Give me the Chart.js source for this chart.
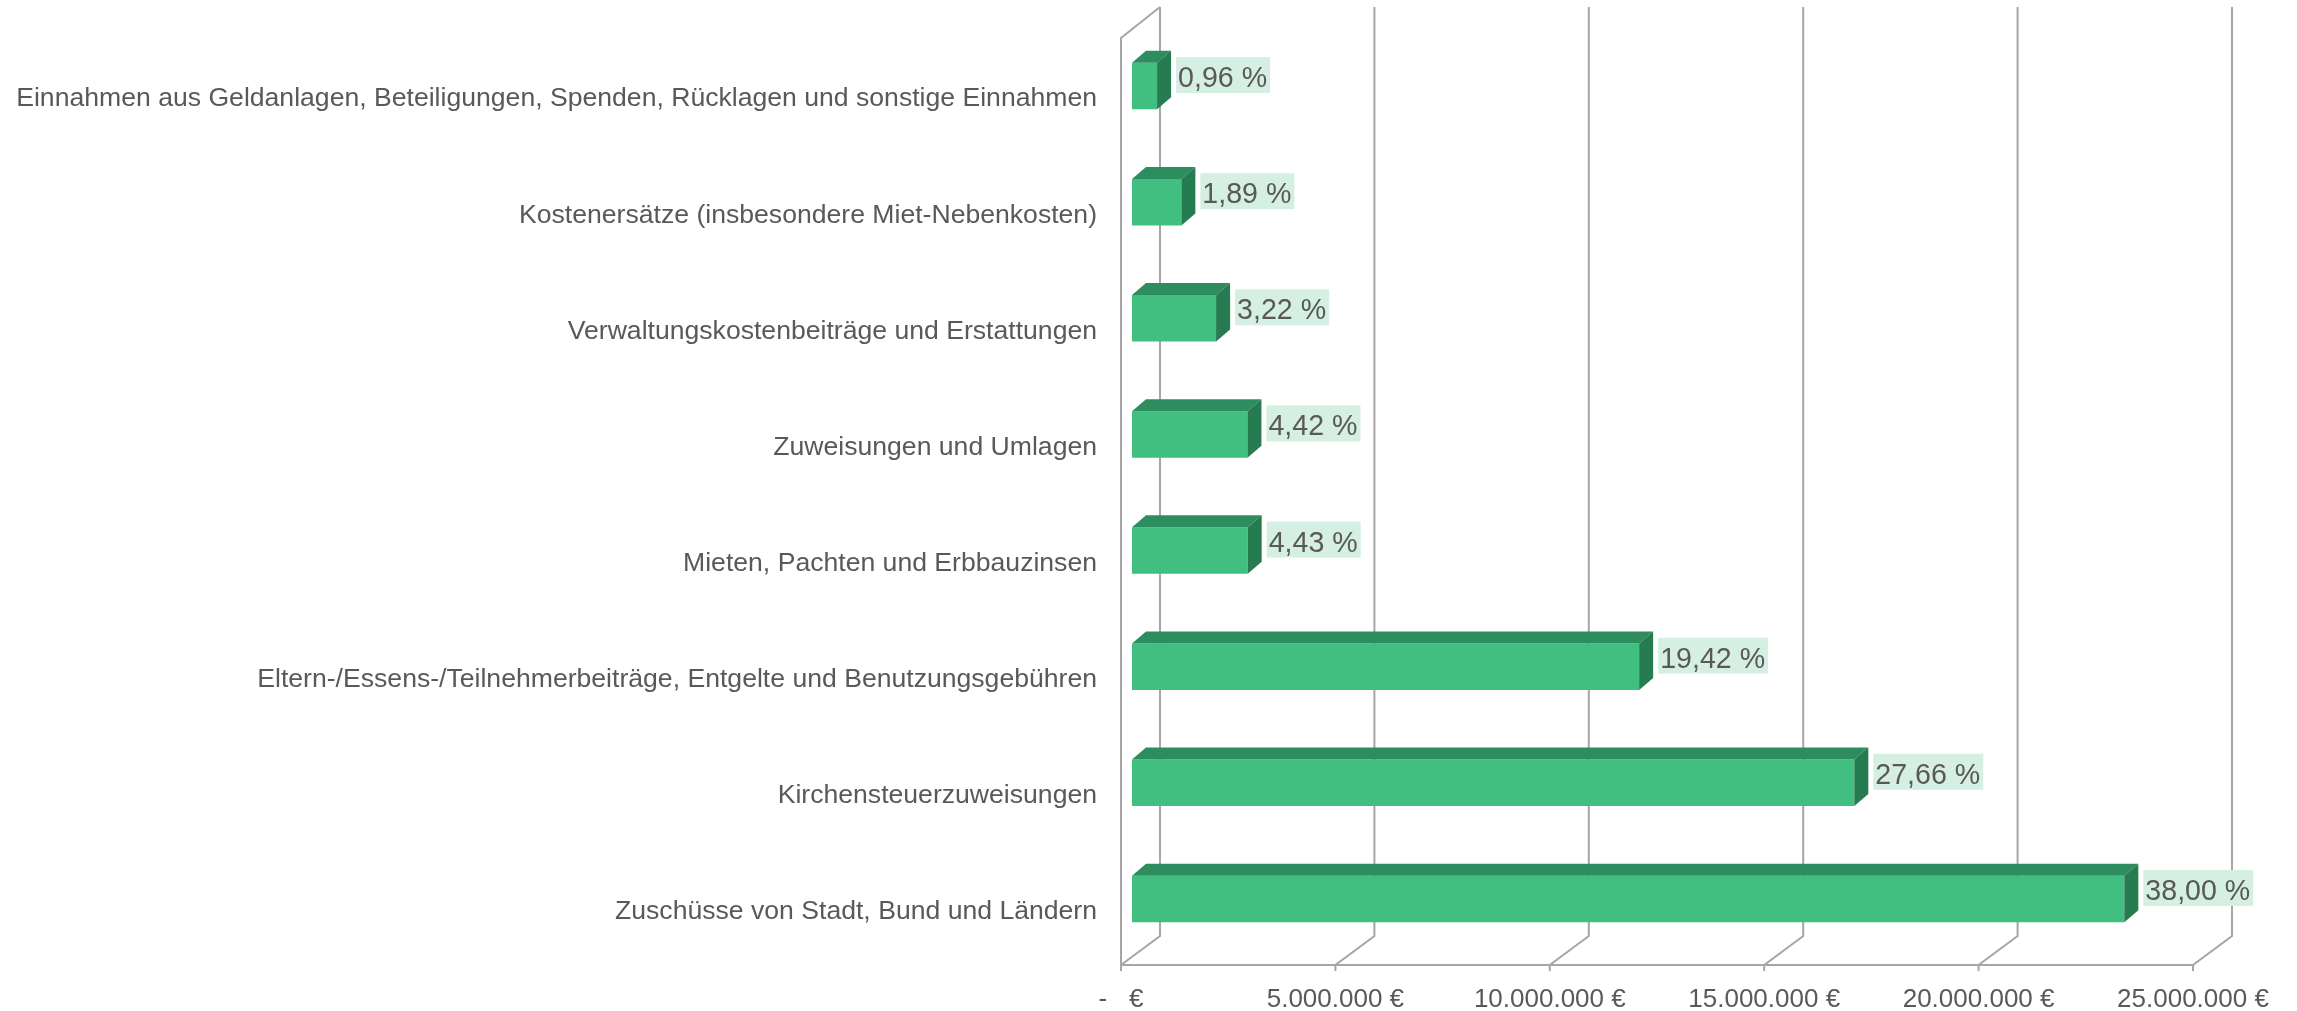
<!DOCTYPE html>
<html>
<head>
<meta charset="utf-8">
<script src="https://cdn.jsdelivr.net/npm/chart.js@4"></script>
<style>
  body { margin: 0; background: #fff; }
  #wrap { width: 2297px; height: 1011px; }
</style>
</head>
<body>
<div id="wrap"><canvas id="einnahmenChart" width="2297" height="1011"></canvas></div>
<script>
var categories = [
    'Einnahmen aus Geldanlagen, Beteiligungen, Spenden, Rücklagen und sonstige Einnahmen',
    'Kostenersätze (insbesondere Miet-Nebenkosten)',
    'Verwaltungskostenbeiträge und Erstattungen',
    'Zuweisungen und Umlagen',
    'Mieten, Pachten und Erbbauzinsen',
    'Eltern-/Essens-/Teilnehmerbeiträge, Entgelte und Benutzungsgebühren',
    'Kirchensteuerzuweisungen',
    'Zuschüsse von Stadt, Bund und Ländern'
];
// Beträge in Euro (aus der Grafik geschätzt)
var betraege = [585000, 1151000, 1961000, 2692000, 2698000, 11827000, 16845000, 23142000];
var anteile = ['0,96 %', '1,89 %', '3,22 %', '4,42 %', '4,43 %', '19,42 %', '27,66 %', '38,00 %'];
var tickLabels = ['-   €', '5.000.000 €', '10.000.000 €', '15.000.000 €', '20.000.000 €', '25.000.000 €'];

var schrift = "'Liberation Sans', Arial, sans-serif";
var textFarbe = '#595959';
var gitterFarbe = '#A6A6A6';

// 3D-Versatz: Vorderkante / Rückwand relativ zur Balkenebene
var vorne = { dx: -11, dy: 8 };
var hinten = { dx: 28, dy: -21 };
var wandOben = 7;
var tiefe = { dx: 14, dy: 12 };

var rahmen3d = {
    id: 'rahmen3d',
    beforeDatasetsDraw: function (chart) {
        var ctx = chart.ctx;
        var x = chart.scales.x;
        var area = chart.chartArea;
        var bodenHinten = area.bottom + hinten.dy;
        var bodenVorne = area.bottom + vorne.dy;
        ctx.save();
        ctx.strokeStyle = gitterFarbe;
        ctx.lineWidth = 2;
        x.ticks.forEach(function (t) {
            var px = x.getPixelForValue(t.value);
            ctx.beginPath();
            ctx.moveTo(px + hinten.dx, wandOben);
            ctx.lineTo(px + hinten.dx, bodenHinten);
            ctx.lineTo(px + vorne.dx, bodenVorne);
            ctx.lineTo(px + vorne.dx, bodenVorne + 6);
            ctx.stroke();
        });
        // Vorderkante Boden
        ctx.beginPath();
        ctx.moveTo(x.getPixelForValue(x.min) + vorne.dx, bodenVorne);
        ctx.lineTo(x.getPixelForValue(x.max) + vorne.dx, bodenVorne);
        ctx.stroke();
        // linke Seitenwand
        var x0 = x.getPixelForValue(0);
        ctx.beginPath();
        ctx.moveTo(x0 + vorne.dx, bodenVorne);
        ctx.lineTo(x0 + vorne.dx, wandOben + (vorne.dy - hinten.dy) + 2);
        ctx.lineTo(x0 + hinten.dx, wandOben);
        ctx.stroke();
        ctx.restore();
    },
    afterDatasetsDraw: function (chart) {
        var ctx = chart.ctx;
        var meta = chart.getDatasetMeta(0);
        ctx.save();
        meta.data.forEach(function (bar, i) {
            var p = bar.getProps(['x', 'y', 'base', 'height'], true);
            var top = p.y - p.height / 2;
            var bottom = p.y + p.height / 2;
            // Deckfläche
            ctx.fillStyle = '#2E8D5F';
            ctx.beginPath();
            ctx.moveTo(p.base, top);
            ctx.lineTo(p.x, top);
            ctx.lineTo(p.x + tiefe.dx, top - tiefe.dy);
            ctx.lineTo(p.base + tiefe.dx, top - tiefe.dy);
            ctx.closePath();
            ctx.fill();
            // Seitenfläche
            ctx.fillStyle = '#277B51';
            ctx.beginPath();
            ctx.moveTo(p.x, top);
            ctx.lineTo(p.x + tiefe.dx, top - tiefe.dy);
            ctx.lineTo(p.x + tiefe.dx, bottom - tiefe.dy);
            ctx.lineTo(p.x, bottom);
            ctx.closePath();
            ctx.fill();
            // Datenbeschriftung
            ctx.font = '28.6px ' + schrift;
            var w = ctx.measureText(anteile[i]).width;
            var bx = p.x + tiefe.dx + 5;
            ctx.fillStyle = '#D5F0E3';
            ctx.fillRect(bx, p.y - 29, w + 5, 36);
            ctx.fillStyle = textFarbe;
            ctx.textBaseline = 'alphabetic';
            ctx.textAlign = 'left';
            ctx.fillText(anteile[i], bx + 2, p.y + 1);
        });
        ctx.restore();
    }
};

new Chart(document.getElementById('einnahmenChart').getContext('2d'), {
    type: 'bar',
    data: {
        labels: categories,
        datasets: [{
            data: betraege,
            backgroundColor: '#40BF80',
            borderWidth: 0,
            barPercentage: 0.4,
            categoryPercentage: 1
        }]
    },
    options: {
        indexAxis: 'y',
        responsive: false,
        animation: false,
        layout: { padding: { top: 28, right: 93, left: 0, bottom: 0 } },
        plugins: {
            legend: { display: false },
            tooltip: { enabled: false }
        },
        scales: {
            x: {
                min: 0,
                max: 25000000,
                grid: { display: false, drawTicks: false },
                border: { display: false },
                afterFit: function (scale) {
                    scale.height = 54;
                    scale.paddingLeft = 0;
                    scale.paddingRight = 0;
                },
                ticks: {
                    stepSize: 5000000,
                    maxRotation: 0,
                    autoSkip: false,
                    padding: 27,
                    labelOffset: -11,
                    color: textFarbe,
                    font: { family: schrift, size: 26 },
                    callback: function (value, index) { return tickLabels[index]; }
                }
            },
            y: {
                grid: { display: false, drawTicks: false },
                border: { display: false },
                afterFit: function (scale) {
                    scale.width = 1132;
                    scale.paddingTop = 0;
                    scale.paddingBottom = 0;
                },
                ticks: {
                    padding: 35,
                    labelOffset: 13,
                    autoSkip: false,
                    color: textFarbe,
                    font: { family: schrift, size: 26.6 }
                }
            }
        }
    },
    plugins: [rahmen3d]
});
</script>
</body>
</html>
